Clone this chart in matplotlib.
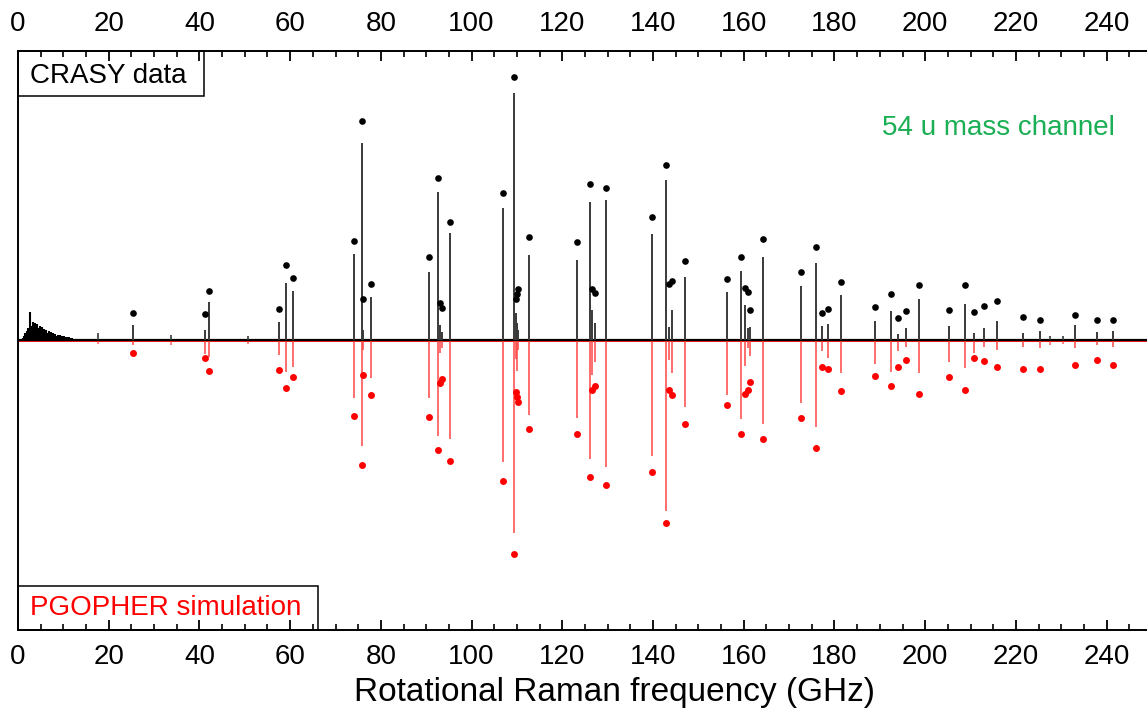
import numpy as np
import matplotlib
matplotlib.use("Agg")
import matplotlib.pyplot as plt
from matplotlib.patches import Rectangle

plt.rcParams['font.family'] = ['Liberation Sans', 'DejaVu Sans']

# Assigned rotational Raman lines (GHz)
line_freq = [25.4, 41.2, 42.2, 57.6, 59.1, 60.6, 74.1, 75.8, 76.1, 77.9,
             90.6, 92.7, 93.0, 93.4, 95.2, 106.9, 109.4, 109.7, 110.0, 110.2,
             112.6, 123.3, 126.1, 126.6, 127.1, 129.7, 139.8, 142.8, 143.5, 144.2,
             147.0, 156.2, 159.5, 160.3, 160.9, 161.4, 164.2, 172.6, 176.0, 177.2,
             178.5, 181.5, 189.0, 192.5, 194.0, 195.7, 198.7, 205.3, 208.8, 210.8,
             213.0, 215.8, 221.6, 225.3, 233.0, 237.9, 241.5]

# Measured CRASY intensities (arb. units) and fitted line intensities
exp_int = [15, 10, 38, 18, 57, 49, 86, 197, 10, 43,
           68, 148, 15, 8, 107, 132, 247, 27, 17, 10,
           85, 80, 138, 30, 17, 140, 106, 160, 13, 30,
           63, 48, 69, 35, 12, 13, 83, 54, 77, 14,
           16, 45, 19, 29, 6, 12, 41, 14, 36, 7,
           12, 19, 7, 9, 15, 8, 9]
exp_fit = [27, 26, 49, 31, 75, 62, 99, 219, 41, 56,
           83, 162, 37, 32, 118, 147, 263, 41, 46, 51,
           103, 98, 156, 51, 47, 152, 123, 175, 56, 59,
           79, 61, 83, 52, 48, 30, 101, 68, 93, 27,
           31, 58, 33, 46, 22, 29, 55, 30, 55, 28,
           34, 39, 23, 20, 25, 20, 20]

# PGOPHER simulated intensities (arb. units) and fitted line intensities
sim_int = [5, 14, 17, 15, 32, 27, 58, 106, 10, 38,
           58, 96, 13, 8, 99, 122, 193, 19, 31, 10,
           75, 78, 119, 35, 22, 127, 116, 171, 20, 33,
           67, 55, 79, 26, 8, 16, 84, 63, 87, 11,
           18, 33, 24, 32, 11, 7, 33, 22, 28, 13,
           7, 10, 7, 8, 8, 5, 7]
sim_fit = [13, 18, 31, 30, 48, 37, 76, 125, 35, 55,
           77, 110, 43, 39, 121, 141, 214, 52, 57, 62,
           89, 94, 137, 50, 46, 145, 132, 183, 50, 55,
           84, 65, 94, 54, 50, 42, 99, 78, 108, 27,
           29, 51, 36, 46, 27, 20, 54, 37, 50, 18,
           21, 27, 29, 29, 25, 20, 25]

# Weak unassigned features along the baseline
weak_freq = [17.7, 33.7, 50.7, 227.6, 230.4]
weak_exp = [7, 5, 4, 4, 4]
weak_sim = [4, 5, 4, 5, 4]

# Low-frequency signal from the ion background (0.25 GHz sampling)
lowf_freq = np.arange(0.5, 12.01, 0.25)
lowf_int = [0, 1, 2, 4, 7, 6, 9, 12, 10, 28, 14, 18, 15, 17, 14, 16,
            12, 14, 11, 13, 9, 11, 8, 10, 7, 9, 6, 8, 5, 7, 5, 6,
            4, 5, 4, 5, 3, 4, 3, 4, 3, 3, 2, 3, 2, 2, 2]

W, H = 1147, 717
fig = plt.figure(figsize=(W / 100, H / 100), dpi=100)
ax_l, ax_r, ax_t, ax_b = 18, 1147, 51, 630
ax = fig.add_axes([ax_l / W, 1 - ax_b / H, (ax_r - ax_l) / W, (ax_b - ax_t) / H])

x_max = (ax_r - ax_l) / 4.536
ax.set_xlim(0, x_max)
ax.set_ylim(-290, 289)

line_freq = np.asarray(line_freq)
exp_int = np.asarray(exp_int)
sim_int = np.asarray(sim_int)

# baselines
ax.axhline(-1.2, color='red', lw=1.3, zorder=2)
ax.axhline(0.3, color='black', lw=1.6, zorder=3)

# experimental spectrum
ax.vlines(lowf_freq, 0, lowf_int, color='black', lw=1.5, zorder=3)
ax.vlines(line_freq, 0, exp_int, color='#3a3a3a', lw=1.4, zorder=3)
ax.vlines(weak_freq, 0, weak_exp, color='#3a3a3a', lw=1.2, zorder=3)
ax.plot(line_freq, exp_fit, 'o', color='black', ms=4.8, mec='none', zorder=4)

# simulated spectrum (inverted)
ax.vlines(line_freq, 0, -sim_int, color='#ff4848', lw=1.4, alpha=0.8, zorder=2)
ax.vlines(weak_freq, 0, -np.asarray(weak_sim), color='#ff4848', lw=1.2, alpha=0.8, zorder=2)
ax.plot(line_freq, -np.asarray(sim_fit), 'o', color='red', ms=5.0, mec='none', zorder=4)

# axes styling
ax.spines['right'].set_visible(False)
for s in ['left', 'top', 'bottom']:
    ax.spines[s].set_linewidth(1.4)
ax.set_yticks([])
ax.set_xticks(np.arange(0, 241, 20))
ax.set_xticks(np.arange(0, 250, 5), minor=True)
ax.tick_params(axis='x', which='major', direction='in', length=7, width=1.3,
               top=True, labeltop=True, labelsize=20, pad=10)
ax.tick_params(axis='x', which='minor', direction='in', length=4, width=1.2,
               top=True)
ax.set_xlabel('Rotational Raman frequency (GHz)', fontsize=24, labelpad=6)
ax.xaxis.set_label_coords((615 - ax_l) / (ax_r - ax_l), -0.082)

# panel labels
bw1, bh1 = 186 / (ax_r - ax_l), 45 / (ax_b - ax_t)
ax.add_patch(Rectangle((0, 1 - bh1), bw1, bh1, transform=ax.transAxes,
                       fill=False, ec='black', lw=1.1, zorder=5, clip_on=False))
ax.text(12 / (ax_r - ax_l), 1 - bh1 / 2 - 0.004, 'CRASY data', transform=ax.transAxes,
        fontsize=20, color='black', va='center', ha='left', zorder=6)

bw2, bh2 = 300 / (ax_r - ax_l), 44 / (ax_b - ax_t)
ax.add_patch(Rectangle((0, 0), bw2, bh2, transform=ax.transAxes,
                       fill=False, ec='black', lw=1.1, zorder=5, clip_on=False))
ax.text(12 / (ax_r - ax_l), bh2 / 2, 'PGOPHER simulation', transform=ax.transAxes,
        fontsize=20, color='red', va='center', ha='left', zorder=6)

ax.text(0.8687, 0.867, '54 u mass channel', transform=ax.transAxes,
        fontsize=20, color='#1aaf54', va='center', ha='center')

fig.savefig('out.png', dpi=100)
